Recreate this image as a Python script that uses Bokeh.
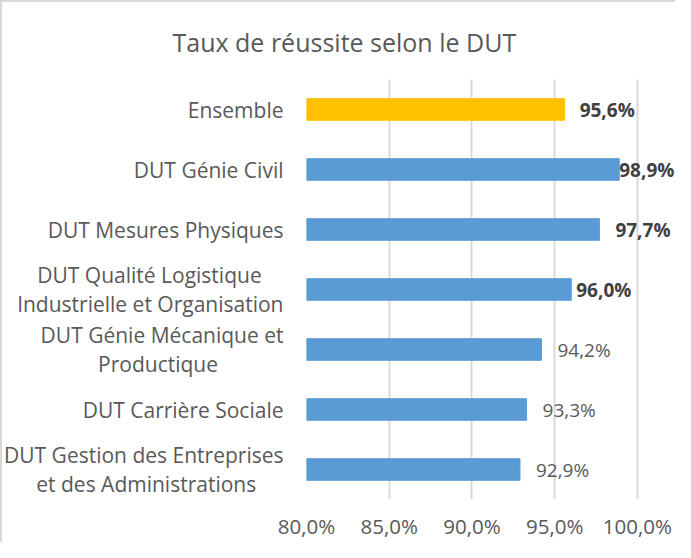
from bokeh.plotting import figure
from bokeh.models import (ColumnDataSource, FactorRange, Range1d, FixedTicker,
                          CustomJSTickFormatter, LabelSet)
from bokeh.core.properties import value
from bokeh.embed import file_html
from bokeh.resources import INLINE

# ---- data ----
title_text = "Taux de réussite selon le DUT"
category_lines = [["Ensemble"], ["DUT Génie Civil"], ["DUT Mesures Physiques"],
                  ["DUT Qualité Logistique", "Industrielle et Organisation"],
                  ["DUT Génie Mécanique et", "Productique"],
                  ["DUT Carrière Sociale"],
                  ["DUT Gestion des Entreprises", "et des Administrations"]]
values = [95.6, 98.9, 97.7, 96.0, 94.2, 93.3, 92.9]
value_labels = ["95,6%", "98,9%", "97,7%", "96,0%", "94,2%", "93,3%", "92,9%"]
bold_flags = [True, True, True, True, False, False, False]
x_ticks = [80, 85, 90, 95, 100]
x_min, x_max = 80, 100

# ---- styles ----
BLUE = "#5B9BD5"
GOLD = "#FFC000"
TEXT = "#595959"
DARK = "#404040"
FONT = "Open Sans"
label_offsets = [15, 0, 16, 5, 16, 16, 16]
# non-breaking-space padding (per line) so that right-aligned lines look centred
line_pads = [[0], [0], [0], [4, 0], [0, 12], [0], [0, 5]]
x_extra = 2.3  # room to the right of 100 % for the value labels

categories = ["\n".join(line + "\u00a0" * pad for line, pad in zip(lines, pads))
              for lines, pads in zip(category_lines, line_pads)]
colors = [GOLD] + [BLUE] * (len(categories) - 1)

src = ColumnDataSource(dict(
    cat=categories, val=values, left=[x_min] * len(values), color=colors,
    lab=value_labels,
    style=["bold" if b else "normal" for b in bold_flags],
    lcolor=[DARK if b else TEXT for b in bold_flags],
    xoff=label_offsets,
))

p = figure(width=675, height=542, output_backend="svg", toolbar_location=None,
           y_range=FactorRange(factors=list(reversed(categories))),
           x_range=Range1d(x_min, x_max + x_extra),
           min_border_left=306, min_border_top=79, min_border_right=0,
           min_border_bottom=43, title=title_text)
p.styles = {"box-shadow": "inset 2px 2px 0 0 #d9d9d9"}
p.outline_line_color = None
p.background_fill_color = "white"
p.border_fill_color = None

p.title.text_font = FONT
p.title.text_font_size = "25px"
p.title.text_font_style = "normal"
p.title.text_color = TEXT
p.title.align = "left"
p.title.vertical_align = "middle"
p.title.offset = -134
p.title.standoff = 39

p.hbar(y="cat", left="left", right="val", height=0.36, color="color",
       line_color="color", source=src)

# grid
p.ygrid.grid_line_color = None
p.xgrid.ticker = FixedTicker(ticks=x_ticks)
p.xgrid.grid_line_color = "#d9d9d9"
p.xgrid.grid_line_width = 2

# x axis
xa = p.xaxis[0]
xa.ticker = FixedTicker(ticks=x_ticks)
xa.formatter = CustomJSTickFormatter(code="return tick.toFixed(1).replace('.', ',') + '%';")
xa.axis_line_color = None
xa.major_tick_line_color = None
xa.minor_tick_line_color = None
xa.major_tick_out = 0
xa.major_tick_in = 0
xa.major_label_standoff = 12
xa.major_label_text_font = FONT
xa.major_label_text_font_size = "20.5px"
xa.major_label_text_color = TEXT

# y axis (category labels)
ya = p.yaxis[0]
ya.axis_line_color = None
ya.major_tick_line_color = None
ya.minor_tick_line_color = None
ya.major_tick_out = 0
ya.major_tick_in = 0
ya.major_label_standoff = 23
ya.major_label_text_font = FONT
ya.major_label_text_font_size = "21px"
ya.major_label_text_color = TEXT
ya.major_label_text_line_height = 1.05

# value labels
p.add_layout(LabelSet(x="val", y="cat", text="lab", x_offset="xoff", source=src,
                      text_font=value(FONT), text_font_size="19px",
                      text_font_style="style", text_color="lcolor",
                      text_baseline="middle", text_align="left"))

open("out.html", "w").write(file_html(p, INLINE))
